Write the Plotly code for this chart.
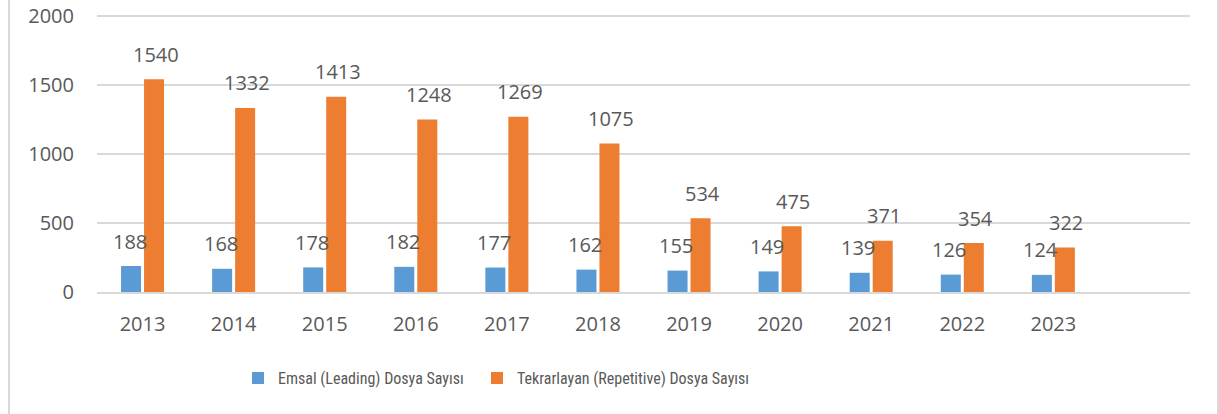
import plotly.graph_objects as go

years = ["2013", "2014", "2015", "2016", "2017", "2018", "2019", "2020", "2021", "2022", "2023"]
emsal = [188, 168, 178, 182, 177, 162, 155, 149, 139, 126, 124]
tekrar = [1540, 1332, 1413, 1248, 1269, 1075, 534, 475, 371, 354, 322]
name_emsal = "Emsal (Leading) Dosya Sayısı"
name_tekrar = "Tekrarlayan (Repetitive) Dosya Sayısı"

BLUE = "#5B9BD5"
ORANGE = "#ED7D31"
TXT = "#595959"
FONT = "Open Sans"
LFONT = "Liberation Sans Narrow, Roboto Condensed, Open Sans"
FS = 20
LFS = 16

fig = go.Figure()
fig.add_trace(go.Bar(x=years, y=emsal, name=name_emsal, marker_color=BLUE, marker_line_width=0,
                     legend="legend"))
fig.add_trace(go.Bar(x=years, y=tekrar, name=name_tekrar, marker_color=ORANGE, marker_line_width=0,
                     legend="legend2"))

annotations = []
for i, v in enumerate(emsal):
    annotations.append(dict(x=i, y=v, xref="x", yref="y", text=str(v), showarrow=False,
                            xshift=-13, yshift=25, yanchor="middle",
                            font=dict(family=FONT, size=FS, color=TXT)))
for i, v in enumerate(tekrar):
    annotations.append(dict(x=i, y=v, xref="x", yref="y", text=str(v), showarrow=False,
                            xshift=13, yshift=25, yanchor="middle",
                            font=dict(family=FONT, size=FS, color=TXT)))

leg_common = dict(orientation="h", xanchor="left", y=-0.31, yanchor="middle",
                  font=dict(family=LFONT, size=LFS, color=TXT), itemwidth=30,
                  bgcolor="rgba(0,0,0,0)")

fig.update_layout(
    template="none",
    width=1219, height=414,
    margin=dict(l=97, r=29, t=14, b=122, autoexpand=False),
    paper_bgcolor="white", plot_bgcolor="white",
    barmode="group", bargap=0.495, bargroupgap=0.13,
    font=dict(family=FONT, size=FS, color=TXT),
    showlegend=True,
    legend=dict(x=(238 - 97) / 1093, **leg_common),
    legend2=dict(x=(477 - 97) / 1093, **leg_common),
    annotations=annotations,
    xaxis=dict(type="category", categoryorder="array", categoryarray=years, automargin=False,
               range=[-0.5, 11.5], showgrid=False, showline=True, linecolor="#D9D9D9", linewidth=2,
               zeroline=False, ticks="", ticklabelstandoff=13, tickfont=dict(family=FONT, size=FS, color=TXT)),
    yaxis=dict(range=[0, 2012], tickvals=[0, 500, 1000, 1500, 2000], automargin=False,
               showgrid=True, gridcolor="#D9D9D9", gridwidth=2,
               zeroline=False, showline=False, ticks="", ticklabelstandoff=22,
               tickfont=dict(family=FONT, size=FS, color=TXT)),
    shapes=[
        dict(type="line", xref="paper", yref="paper", x0=-0.0805, x1=-0.0805, y0=-0.6, y1=1.2,
             line=dict(color="#D9D9D9", width=2)),
        dict(type="line", xref="paper", yref="paper", x0=1.0256, x1=1.0256, y0=-0.6, y1=1.2,
             line=dict(color="#D9D9D9", width=2)),
    ],
)

fig.write_html("out.html")
